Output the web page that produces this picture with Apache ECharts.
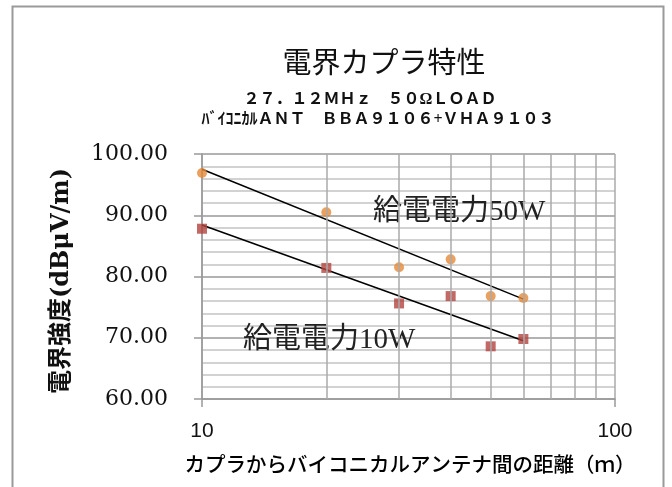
<!DOCTYPE html>
<html>
<head>
<meta charset="utf-8">
<script src="https://cdn.jsdelivr.net/npm/echarts@6/dist/echarts.min.js"></script>
<style>
html,body{margin:0;padding:0;background:#fff;}
#chart{width:672px;height:487px;}
</style>
</head>
<body>
<div id="chart"></div>
<script>
// Data
const distances = [10, 20, 30, 40, 50, 60];
const power50W = [96.9, 90.5, 81.5, 82.8, 76.8, 76.5];
const power10W = [87.8, 81.4, 75.6, 76.8, 68.6, 69.8];
const trend50W = [[10, 97.5], [60, 76.3]];
const trend10W = [[10, 88.4], [60, 69.5]];
const xGridValues = [20, 30, 40, 50, 60, 70, 80, 90];
const titleText = '電界カプラ特性';
const subtitle1 = '２７．１２ＭＨｚ　５０ΩＬＯＡＤ';
const subtitle2 = 'ﾊﾞｲｺﾆｶﾙＡＮＴ　ＢＢＡ９１０６+ＶＨＡ９１０３';
const yAxisTitle = '電界強度(dBμV/m)';
const xAxisTitle = 'カプラからバイコニカルアンテナ間の距離（ｍ）';
const label50W = '給電電力50W';
const label10W = '給電電力10W';

const chart = echarts.init(document.getElementById('chart'), null, {renderer: 'canvas'});
const serifCJK = "'Liberation Serif','Noto Sans CJK JP'";
const option = {
  animation: false,
  backgroundColor: '#ffffff',
  grid: {left: 202, right: 57, top: 154, bottom: 88, containLabel: false},
  xAxis: {
    type: 'log', logBase: 10, min: 10, max: 100,
    axisLine: {show: true, lineStyle: {color: '#999', width: 1.5}},
    axisTick: {show: true, length: 8, lineStyle: {color: '#999', width: 1.5}},
    axisLabel: {show: true, margin: 22, color: '#111', fontSize: 21, fontFamily: "'Liberation Sans'"},
    splitLine: {show: true, lineStyle: {color: '#aaa', width: 1.5}},
    minorTick: {show: false},
    minorSplitLine: {show: false}
  },
  yAxis: {
    type: 'value', min: 60, max: 100, interval: 10,
    axisLine: {show: true, lineStyle: {color: '#999', width: 1.5}},
    axisTick: {show: true, length: 8, lineStyle: {color: '#999', width: 1.5}},
    axisLabel: {margin: 34, color: '#111', fontSize: 22, fontFamily: "'DejaVu Serif'",
      formatter: v => v.toFixed(2)},
    splitLine: {show: true, lineStyle: {color: '#999', width: 1.5}},
    minorTick: {show: false, splitNumber: 5},
    minorSplitLine: {show: true, lineStyle: {color: '#c4c4c4', width: 1.5}}
  },
  series: [
    {
      type: 'line', data: [], silent: true,
      markLine: {
        silent: true, symbol: ['none', 'none'], label: {show: false},
        lineStyle: {color: '#aaa', width: 1.5, type: 'solid'},
        data: xGridValues.map(v => ({xAxis: v}))
      }
    },
    {
      name: 'trend50', type: 'line', data: trend50W, symbol: 'none',
      lineStyle: {color: '#000', width: 1.5}, z: 3, silent: true
    },
    {
      name: 'trend10', type: 'line', data: trend10W, symbol: 'none',
      lineStyle: {color: '#000', width: 1.5}, z: 3, silent: true
    },
    {
      name: '50W', type: 'scatter', data: distances.map((d, i) => [d, power50W[i]]),
      symbol: 'circle', symbolSize: 10, itemStyle: {color: '#E58A37'}, z: 4
    },
    {
      name: '10W', type: 'scatter', data: distances.map((d, i) => [d, power10W[i]]),
      symbol: 'rect', symbolSize: 10, itemStyle: {color: '#B3423F'}, z: 4
    }
  ],
  graphic: [
    {type: 'rect', shape: {x: 12.5, y: 6.5, width: 651, height: 520},
      style: {fill: 'none', stroke: '#9a9a9a', lineWidth: 2}, silent: true, z: 0},
    {type: 'text', x: 384, y: 62, style: {text: titleText, textAlign: 'center', textVerticalAlign: 'middle',
      font: "normal 29px 'Noto Sans CJK JP'", fill: '#111'}},
    {type: 'text', x: 370, y: 100, style: {text: subtitle1, textAlign: 'center', textVerticalAlign: 'middle',
      font: "bold 16px " + serifCJK, fill: '#111'}},
    {type: 'text', x: 378, y: 120, style: {text: subtitle2, textAlign: 'center', textVerticalAlign: 'middle',
      font: "bold 16px " + serifCJK, fill: '#111'}},
    {type: 'text', x: 62, y: 281, rotation: Math.PI / 2, style: {text: yAxisTitle, textAlign: 'center', textVerticalAlign: 'middle',
      font: "bold 24px 'DejaVu Serif','Noto Sans CJK JP'", fill: '#111'}},
    {type: 'text', x: 410, y: 464, style: {text: xAxisTitle, textAlign: 'center', textVerticalAlign: 'middle',
      font: "500 20.5px 'Noto Sans CJK JP'", fill: '#000'}},
    {type: 'text', x: 373, y: 212, z: 5, style: {text: label50W, textAlign: 'left', textVerticalAlign: 'middle',
      font: "normal 29px " + serifCJK, fill: '#222'}},
    {type: 'text', x: 243, y: 340, z: 5, style: {text: label10W, textAlign: 'left', textVerticalAlign: 'middle',
      font: "normal 29px " + serifCJK, fill: '#222'}}
  ]
};
chart.setOption(option);
</script>
</body>
</html>
